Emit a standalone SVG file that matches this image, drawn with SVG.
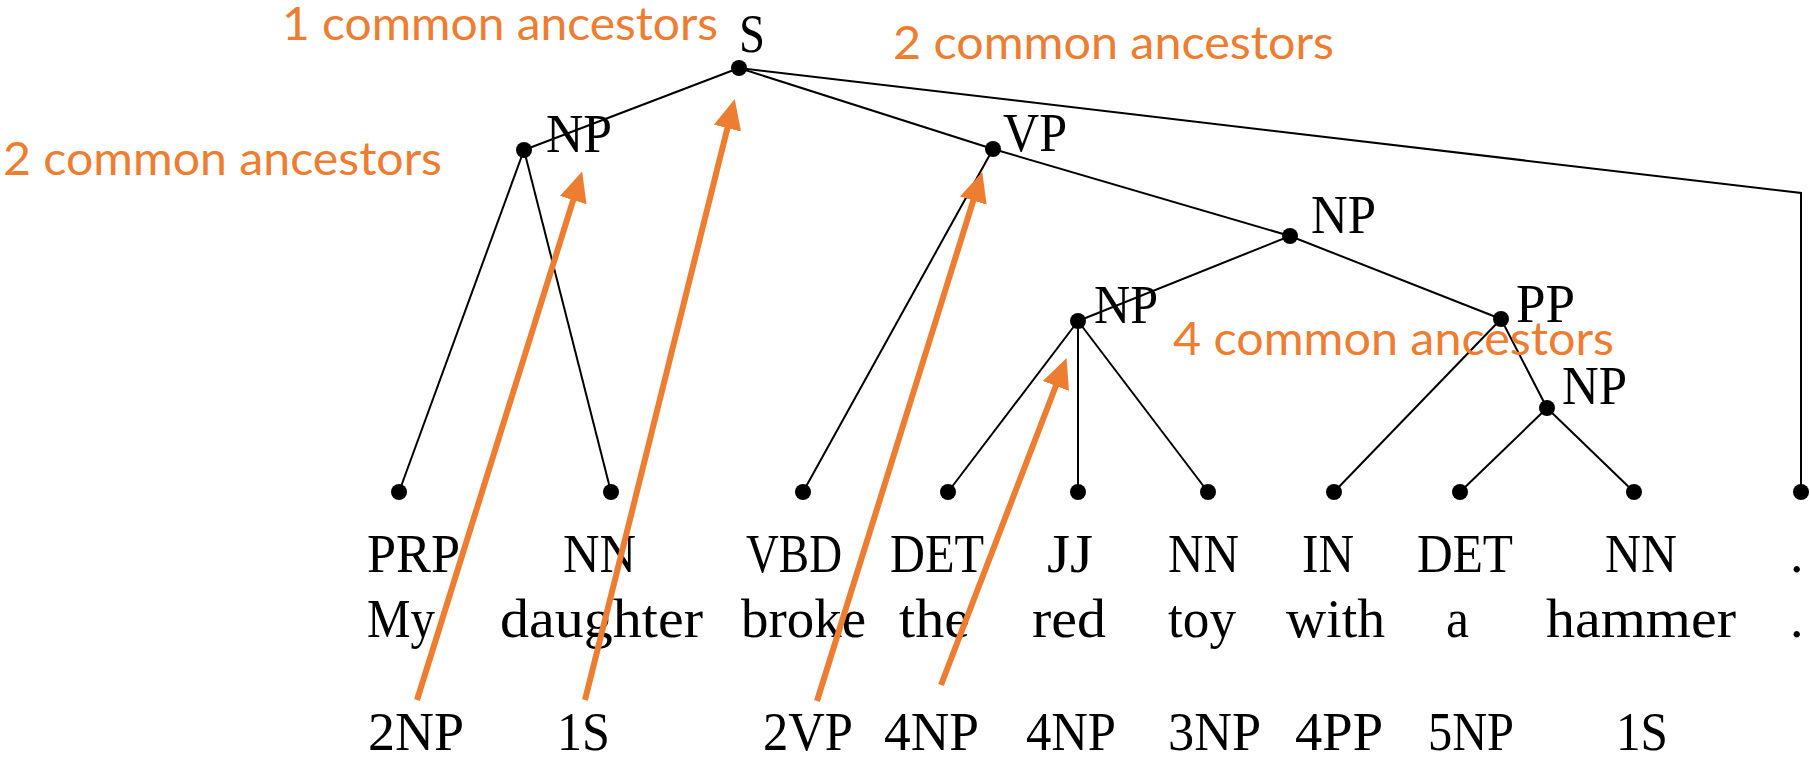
<svg xmlns="http://www.w3.org/2000/svg" width="1810" height="758" viewBox="0 0 1810 758">
  <style>
    .edge { stroke: #000; stroke-width: 2; fill: none; }
    .dot { fill: #000; }
    .lbl { font-family: "Liberation Serif", "Times New Roman", serif; font-size: 54px; fill: #000; }
    .note { font-family: Lato, "Liberation Sans", sans-serif; font-weight: 400; font-size: 47px; fill: #ED7D31; }
    .arrow { stroke: #ED7D31; stroke-width: 6; fill: none; marker-end: url(#head); }
  </style>
  <defs>
    <marker id="head" markerUnits="userSpaceOnUse" viewBox="0 0 30 30" markerWidth="30" markerHeight="30" refX="1" refY="15" orient="auto">
      <path d="M0,1 L30,15 L0,29 Z" fill="#ED7D31"/>
    </marker>
  </defs>
  <rect width="1810" height="758" fill="#fff"/>

  <!-- tree edges -->
  <g id="edges">
    <line class="edge" x1="739" y1="68" x2="524" y2="150"/>
    <line class="edge" x1="739" y1="68" x2="993" y2="149"/>
    <polyline class="edge" points="739,68 1801,193 1801,492"/>
    <line class="edge" x1="524" y1="150" x2="399" y2="492"/>
    <line class="edge" x1="524" y1="150" x2="611" y2="492"/>
    <line class="edge" x1="993" y1="149" x2="803" y2="492"/>
    <line class="edge" x1="993" y1="149" x2="1290" y2="236"/>
    <line class="edge" x1="1290" y1="236" x2="1078" y2="321"/>
    <line class="edge" x1="1290" y1="236" x2="1501" y2="319"/>
    <line class="edge" x1="1078" y1="321" x2="948" y2="492"/>
    <line class="edge" x1="1078" y1="321" x2="1078" y2="492"/>
    <line class="edge" x1="1078" y1="321" x2="1208" y2="492"/>
    <line class="edge" x1="1501" y1="319" x2="1334" y2="492"/>
    <line class="edge" x1="1501" y1="319" x2="1547" y2="408"/>
    <line class="edge" x1="1547" y1="408" x2="1460" y2="492"/>
    <line class="edge" x1="1547" y1="408" x2="1634" y2="492"/>
  </g>

  <!-- phrase nodes -->
  <g id="node-S">
    <circle class="dot" cx="739" cy="68" r="8"/>
    <text class="lbl" x="739" y="52" textLength="26" lengthAdjust="spacingAndGlyphs">S</text>
  </g>
  <g id="node-NP-subj">
    <circle class="dot" cx="524" cy="150" r="8"/>
    <text class="lbl" x="546" y="152" textLength="66" lengthAdjust="spacingAndGlyphs">NP</text>
  </g>
  <g id="node-VP">
    <circle class="dot" cx="993" cy="149" r="8"/>
    <text class="lbl" x="1003" y="151" textLength="64" lengthAdjust="spacingAndGlyphs">VP</text>
  </g>
  <g id="node-NP-obj">
    <circle class="dot" cx="1290" cy="236" r="8"/>
    <text class="lbl" x="1311" y="233" textLength="65" lengthAdjust="spacingAndGlyphs">NP</text>
  </g>
  <g id="node-NP-toy">
    <circle class="dot" cx="1078" cy="321" r="8"/>
    <text class="lbl" x="1094" y="323" textLength="64" lengthAdjust="spacingAndGlyphs">NP</text>
  </g>
  <g id="node-PP">
    <circle class="dot" cx="1501" cy="319" r="8"/>
    <text class="lbl" x="1516" y="322" textLength="59" lengthAdjust="spacingAndGlyphs">PP</text>
  </g>
  <g id="node-NP-hammer">
    <circle class="dot" cx="1547" cy="408" r="8"/>
    <text class="lbl" x="1562" y="404" textLength="65" lengthAdjust="spacingAndGlyphs">NP</text>
  </g>

  <!-- leaves: tag, word, count -->
  <g id="leaf-my">
    <circle class="dot" cx="399" cy="492" r="8"/>
    <text class="lbl" x="367" y="572" textLength="93" lengthAdjust="spacingAndGlyphs">PRP</text>
    <text class="lbl" x="367" y="637" textLength="68" lengthAdjust="spacingAndGlyphs">My</text>
    <text class="lbl" x="368" y="750" textLength="96" lengthAdjust="spacingAndGlyphs">2NP</text>
  </g>
  <g id="leaf-daughter">
    <circle class="dot" cx="611" cy="492" r="8"/>
    <text class="lbl" x="563" y="572" textLength="73" lengthAdjust="spacingAndGlyphs">NN</text>
    <text class="lbl" x="500" y="637" textLength="203" lengthAdjust="spacingAndGlyphs">daughter</text>
    <text class="lbl" x="557" y="750" textLength="53" lengthAdjust="spacingAndGlyphs">1S</text>
  </g>
  <g id="leaf-broke">
    <circle class="dot" cx="803" cy="492" r="8"/>
    <text class="lbl" x="746" y="572" textLength="96" lengthAdjust="spacingAndGlyphs">VBD</text>
    <text class="lbl" x="741" y="637" textLength="125" lengthAdjust="spacingAndGlyphs">broke</text>
    <text class="lbl" x="763" y="750" textLength="90" lengthAdjust="spacingAndGlyphs">2VP</text>
  </g>
  <g id="leaf-the">
    <circle class="dot" cx="948" cy="492" r="8"/>
    <text class="lbl" x="890" y="572" textLength="94" lengthAdjust="spacingAndGlyphs">DET</text>
    <text class="lbl" x="899" y="637" textLength="71" lengthAdjust="spacingAndGlyphs">the</text>
    <text class="lbl" x="884" y="750" textLength="95" lengthAdjust="spacingAndGlyphs">4NP</text>
  </g>
  <g id="leaf-red">
    <circle class="dot" cx="1078" cy="492" r="8"/>
    <text class="lbl" x="1047" y="572" textLength="46" lengthAdjust="spacingAndGlyphs">JJ</text>
    <text class="lbl" x="1032" y="637" textLength="74" lengthAdjust="spacingAndGlyphs">red</text>
    <text class="lbl" x="1026" y="750" textLength="90" lengthAdjust="spacingAndGlyphs">4NP</text>
  </g>
  <g id="leaf-toy">
    <circle class="dot" cx="1208" cy="492" r="8"/>
    <text class="lbl" x="1168" y="572" textLength="71" lengthAdjust="spacingAndGlyphs">NN</text>
    <text class="lbl" x="1168" y="637" textLength="68" lengthAdjust="spacingAndGlyphs">toy</text>
    <text class="lbl" x="1168" y="750" textLength="93" lengthAdjust="spacingAndGlyphs">3NP</text>
  </g>
  <g id="leaf-with">
    <circle class="dot" cx="1334" cy="492" r="8"/>
    <text class="lbl" x="1302" y="572" textLength="52" lengthAdjust="spacingAndGlyphs">IN</text>
    <text class="lbl" x="1286" y="637" textLength="99" lengthAdjust="spacingAndGlyphs">with</text>
    <text class="lbl" x="1295" y="750" textLength="88" lengthAdjust="spacingAndGlyphs">4PP</text>
  </g>
  <g id="leaf-a">
    <circle class="dot" cx="1460" cy="492" r="8"/>
    <text class="lbl" x="1417" y="572" textLength="96" lengthAdjust="spacingAndGlyphs">DET</text>
    <text class="lbl" x="1446" y="637" textLength="23" lengthAdjust="spacingAndGlyphs">a</text>
    <text class="lbl" x="1428" y="750" textLength="86" lengthAdjust="spacingAndGlyphs">5NP</text>
  </g>
  <g id="leaf-hammer">
    <circle class="dot" cx="1634" cy="492" r="8"/>
    <text class="lbl" x="1605" y="572" textLength="72" lengthAdjust="spacingAndGlyphs">NN</text>
    <text class="lbl" x="1546" y="637" textLength="190" lengthAdjust="spacingAndGlyphs">hammer</text>
    <text class="lbl" x="1616" y="750" textLength="52" lengthAdjust="spacingAndGlyphs">1S</text>
  </g>
  <g id="leaf-period">
    <circle class="dot" cx="1801" cy="492" r="8"/>
    <text class="lbl" x="1790" y="572">.</text>
    <text class="lbl" x="1790" y="637">.</text>
  </g>

  <!-- ancestor-count notes -->
  <g id="notes">
    <text class="note" x="282" y="40" textLength="436" lengthAdjust="spacingAndGlyphs">1 common ancestors</text>
    <text class="note" x="893" y="59" textLength="441" lengthAdjust="spacingAndGlyphs">2 common ancestors</text>
    <text class="note" x="3" y="175" textLength="439" lengthAdjust="spacingAndGlyphs">2 common ancestors</text>
    <text class="note" x="1173" y="355" textLength="441" lengthAdjust="spacingAndGlyphs">4 common ancestors</text>
  </g>

  <!-- arrows from counts up to the shared ancestor -->
  <g id="arrows">
    <line class="arrow" x1="417" y1="700" x2="573.5" y2="199.1"/>
    <line class="arrow" x1="585" y1="700" x2="727.7" y2="127.1"/>
    <line class="arrow" x1="817" y1="701" x2="973.6" y2="199.6"/>
    <line class="arrow" x1="941" y1="685" x2="1056.2" y2="385"/>
  </g>
</svg>
